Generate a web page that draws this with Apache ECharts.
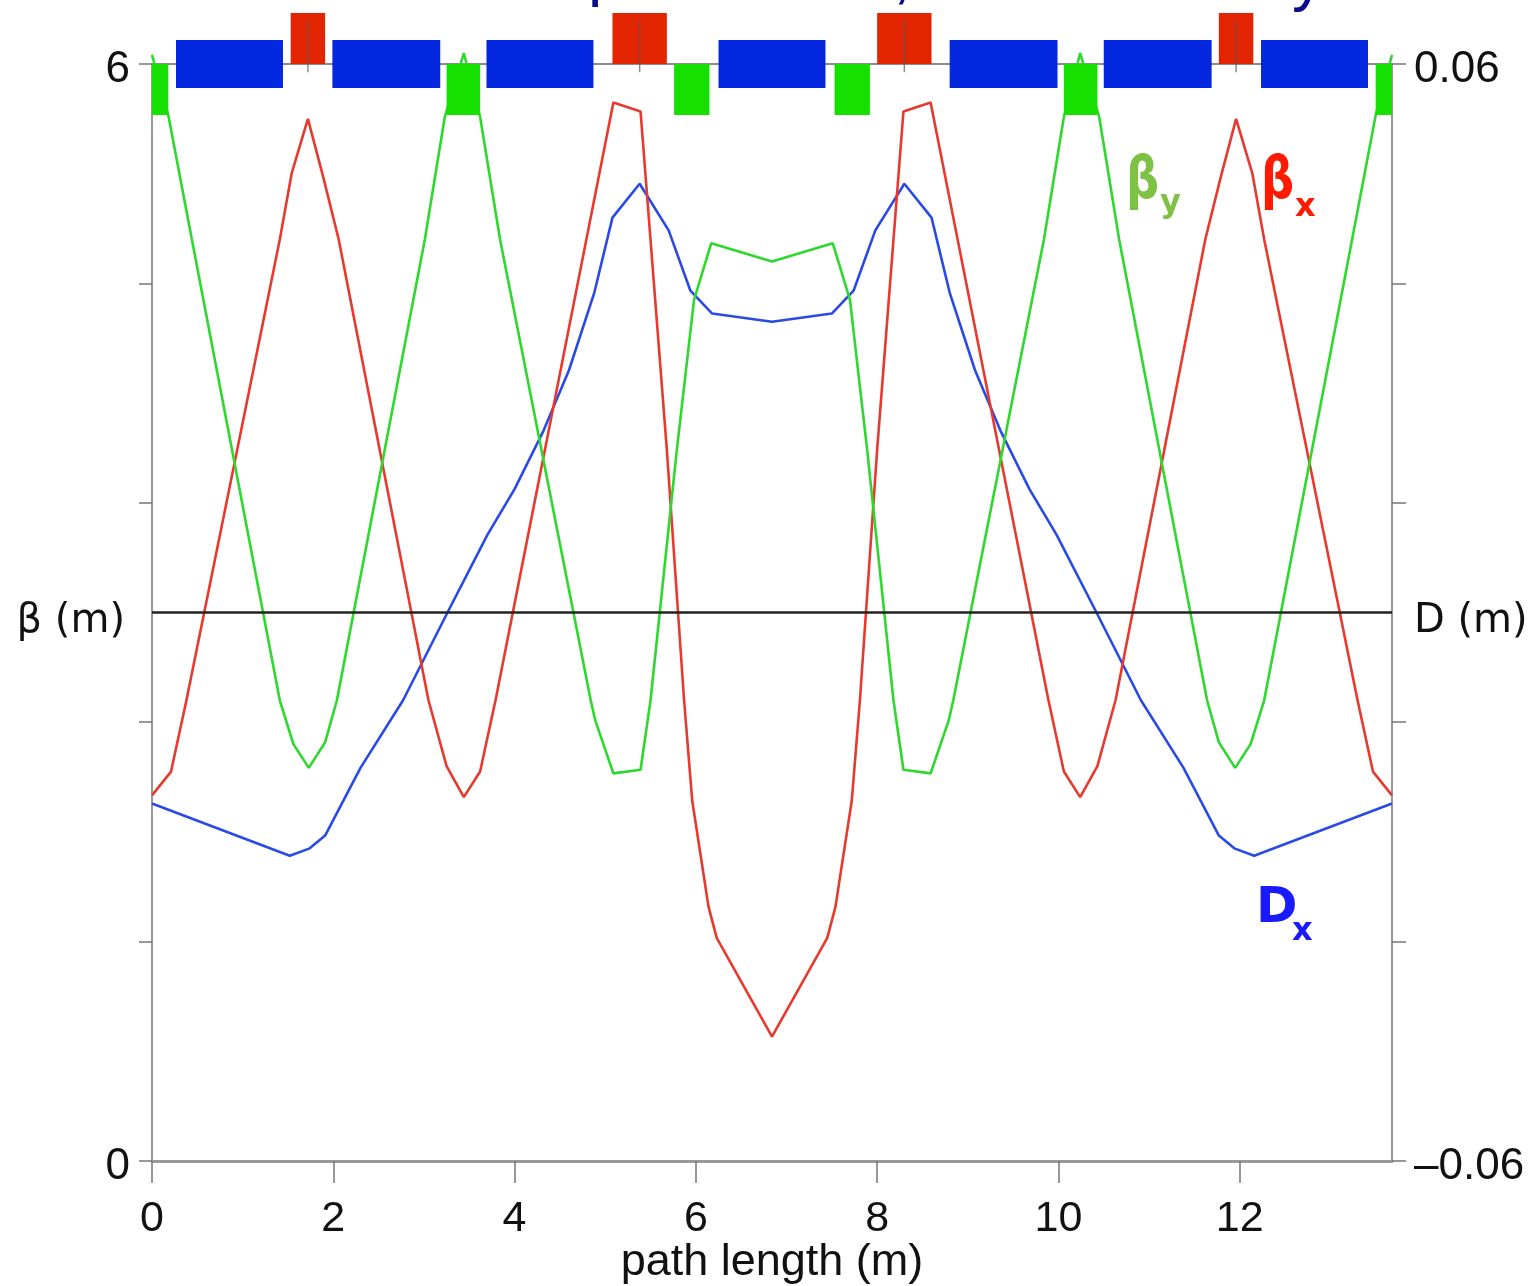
<!DOCTYPE html>
<html>
<head>
<meta charset="utf-8">
<script src="https://cdn.jsdelivr.net/npm/echarts@6/dist/echarts.min.js"></script>
<style>
html,body{margin:0;padding:0;background:#fff;}
#chart{width:1539px;height:1286px;}
</style>
</head>
<body>
<div id="chart"></div>
<script>
// ---- Data ----
const L = 13.68; // cell length (m)
const xTicks = [0, 2, 4, 6, 8, 10, 12];
const betaTicks = [0, 1.2, 2.4, 3.6, 4.8, 6];
const dispTicks = [-0.06, -0.036, -0.012, 0.012, 0.036, 0.06];

// horizontal beta function
const sBx = [0.00,0.21,0.38,1.41,1.54,1.72,1.89,2.06,3.05,3.25,3.44,3.62,3.79,5.09,5.39,5.68,5.87,5.96,6.14,6.23,6.84,
             7.45,7.54,7.72,7.81,8.00,8.29,8.59,9.89,10.06,10.24,10.43,10.63,11.62,11.79,11.96,12.14,12.27,13.30,13.47,13.68];
const betaX = [2.00,2.13,2.52,5.04,5.40,5.70,5.38,5.04,2.52,2.16,1.99,2.13,2.52,5.79,5.74,3.89,2.52,1.97,1.39,1.22,0.68,
             1.22,1.39,1.97,2.52,3.89,5.74,5.79,2.52,2.13,1.99,2.16,2.52,5.04,5.38,5.70,5.40,5.04,2.52,2.13,2.00];

// vertical beta function
const sBy = [0.00,0.18,0.44,1.41,1.56,1.73,1.91,2.04,3.01,3.23,3.44,3.62,3.84,4.84,4.89,5.09,5.39,5.50,5.79,5.98,6.17,6.84,
             7.51,7.70,7.89,8.18,8.29,8.59,8.79,8.84,9.84,10.06,10.24,10.45,10.67,11.64,11.77,11.95,12.12,12.27,13.24,13.50,13.68];
const betaY = [6.05,5.72,5.04,2.52,2.28,2.15,2.29,2.52,5.04,5.71,6.06,5.71,5.04,2.52,2.41,2.12,2.14,2.52,3.89,4.71,5.02,4.92,
             5.02,4.71,3.89,2.52,2.14,2.12,2.41,2.52,5.04,5.71,6.06,5.71,5.04,2.52,2.29,2.15,2.28,2.52,5.04,5.72,6.05];

// horizontal dispersion
const sDx = [0.00,1.52,1.74,1.91,2.30,2.77,3.26,3.70,4.00,4.32,4.60,4.88,5.08,5.38,5.70,5.94,6.18,6.84,
             7.50,7.74,7.98,8.30,8.60,8.80,9.08,9.36,9.68,9.98,10.42,10.91,11.38,11.77,11.94,12.16,13.68];
const dispX = [-0.0209,-0.0266,-0.0258,-0.0244,-0.0170,-0.0096,0.0000,0.0085,0.0135,0.0199,0.0265,0.0350,0.0432,0.0469,0.0418,0.0352,0.0327,0.0318,
             0.0327,0.0352,0.0418,0.0469,0.0432,0.0350,0.0265,0.0199,0.0135,0.0085,0.0000,-0.0096,-0.0170,-0.0244,-0.0258,-0.0266,-0.0209];

// lattice elements [start, end] (m)
const dipoles = [[0.265,1.445],[1.99,3.18],[3.69,4.87],[6.25,7.43],[8.80,9.99],[10.50,11.69],[12.235,13.415]];
const quadsF  = [[1.53,1.91],[5.08,5.68],[8.00,8.60],[11.77,12.15]];
const quadsD  = [[0.00,0.18],[3.25,3.62],[5.76,6.15],[7.53,7.92],[10.06,10.43],[13.50,13.68]];

// ---- Chart ----
const zip = (a, b) => a.map((v, i) => [v, b[i]]);
const FONT = '"Liberation Sans", Arial, sans-serif';
const FONT2 = '"DejaVu Sans", sans-serif';
const GREY = '#777';

function magnetSeries(name, data, lo, hi, color, centerLine) {
  return {
    name, type: 'custom', xAxisIndex: 2, yAxisIndex: 2, z: 5, silent: true,
    data: data,
    renderItem: function (params, api) {
      const s = api.value(0), e = api.value(1);
      const p0 = api.coord([s, hi]);
      const p1 = api.coord([e, lo]);
      const children = [{
        type: 'rect',
        shape: { x: p0[0], y: p0[1], width: p1[0] - p0[0], height: p1[1] - p0[1] },
        style: { fill: color }
      }];
      if (centerLine) {
        const c = (s + e) / 2;
        const a = api.coord([c, 0.85]);
        const b = api.coord([c, -0.16]);
        children.push({ type: 'line', shape: { x1: a[0], y1: a[1], x2: b[0], y2: b[1] },
          style: { stroke: 'rgba(90,90,90,0.7)', lineWidth: 1.5 } });
      }
      return { type: 'group', children };
    }
  };
}

const chart = echarts.init(document.getElementById('chart'), null, { renderer: 'canvas' });
const option = {
  animation: false,
  backgroundColor: '#fff',
  grid: [
    { left: 152, right: 147, top: 64, bottom: 125, containLabel: false, outerBoundsMode: 'none' },
    { left: 152, right: 147, top: 13, height: 102, containLabel: false, outerBoundsMode: 'none' }
  ],
  xAxis: [
    {
      gridIndex: 0, type: 'value', min: 0, max: L, interval: 2,
      axisLine: { show: true, onZero: false, lineStyle: { color: '#999', width: 3 } },
      axisTick: { show: true, length: 22, customValues: xTicks, lineStyle: { color: GREY, width: 1.5 } },
      axisLabel: { customValues: xTicks, fontSize: 43, fontFamily: FONT, color: '#111', margin: 37 },
      splitLine: { show: false },
      name: 'path length (m)', nameLocation: 'middle', nameGap: 79, nameMoveOverlap: false,
      nameTextStyle: { fontSize: 45, fontFamily: FONT, color: '#111' }
    },
    {
      gridIndex: 0, type: 'value', min: 0, max: L, position: 'top',
      axisLine: { show: true, onZero: false, lineStyle: { color: '#666', width: 1.5 } },
      axisTick: { show: false }, axisLabel: { show: false }, splitLine: { show: false }
    },
    { gridIndex: 1, type: 'value', min: 0, max: L, show: false, splitLine: { show: false } }
  ],
  yAxis: [
    {
      gridIndex: 0, type: 'value', min: 0, max: 6, interval: 1.2, position: 'left',
      axisLine: { show: true, onZero: false, lineStyle: { color: GREY, width: 1.5 } },
      axisTick: { show: true, length: 13, customValues: betaTicks, lineStyle: { color: GREY, width: 1.5 } },
      axisLabel: {
        customValues: [0, 6],
        fontSize: 44, fontFamily: FONT, color: '#111', margin: 22,
        verticalAlign: 'top', lineHeight: 12,
        formatter: v => String(v)
      },
      splitLine: { show: false },
      name: 'β (m)', nameLocation: 'middle', nameRotate: 0, nameGap: 27, nameMoveOverlap: false,
      nameTextStyle: { fontSize: 40, fontFamily: FONT2, color: '#111', verticalAlign: 'top', lineHeight: 18 }
    },
    {
      gridIndex: 0, type: 'value', min: -0.06, max: 0.06, interval: 0.012, position: 'right',
      axisLine: { show: true, onZero: false, lineStyle: { color: GREY, width: 1.5 } },
      axisTick: { show: true, length: 14, customValues: dispTicks, lineStyle: { color: GREY, width: 1.5 } },
      axisLabel: {
        customValues: [-0.06, 0.06],
        fontSize: 44, fontFamily: FONT, color: '#111', margin: 22,
        verticalAlign: 'top', lineHeight: 12,
        formatter: v => (v > 0 ? '0.06' : '\u20130.06')
      },
      splitLine: { show: false },
      name: 'D (m)', nameLocation: 'middle', nameRotate: 0, nameGap: 22, nameMoveOverlap: false,
      nameTextStyle: { fontSize: 40, fontFamily: FONT2, color: '#111', verticalAlign: 'top', lineHeight: 18 }
    },
    { gridIndex: 1, type: 'value', min: -1, max: 1, show: false, splitLine: { show: false } }
  ],
  series: [
    {
      name: 'Dx', type: 'line', xAxisIndex: 0, yAxisIndex: 1, data: zip(sDx, dispX),
      showSymbol: false, z: 3, lineStyle: { color: '#2a4ae8', width: 2.6 },
      markLine: {
        silent: true, symbol: 'none', label: { show: false },
        lineStyle: { color: '#222', width: 2.5, type: 'solid' },
        data: [{ yAxis: 0 }]
      }
    },
    {
      name: 'βx', type: 'line', xAxisIndex: 0, yAxisIndex: 0, data: zip(sBx, betaX),
      showSymbol: false, z: 3, lineStyle: { color: '#e8392e', width: 2.6 }
    },
    {
      name: 'βy', type: 'line', xAxisIndex: 0, yAxisIndex: 0, data: zip(sBy, betaY),
      showSymbol: false, clip: false, z: 3, lineStyle: { color: '#2ed82e', width: 2.6 }
    },
    magnetSeries('dipole', dipoles, -0.47, 0.47, '#0328e0', false),
    magnetSeries('quadF', quadsF, 0, 1, '#e22400', true),
    magnetSeries('quadD', quadsD, -1, 0, '#16e000', false)
  ],
  graphic: [
    // cut-off title descenders at the very top
    { type: 'text', x: 588, y: -56, style: { text: 'p', font: '64px ' + FONT, fill: '#0a0a8c' } },
    { type: 'text', x: 893, y: -54, style: { text: ',', font: '64px ' + FONT, fill: '#0a0a8c' } },
    { type: 'text', x: 1292, y: -51, style: { text: 'y', font: '64px ' + FONT, fill: '#0a0a8c' } },
    // curve labels
    { type: 'text', x: 1126, y: 154, scaleX: 0.8, style: { text: 'β', font: 'bold 58px ' + FONT2, fill: '#7dc242' } },
    { type: 'text', x: 1160, y: 188, style: { text: 'y', font: 'bold 32px ' + FONT2, fill: '#7dc242' } },
    { type: 'text', x: 1261, y: 154, scaleX: 0.8, style: { text: 'β', font: 'bold 58px ' + FONT2, fill: '#ff1a00' } },
    { type: 'text', x: 1295, y: 192, style: { text: 'x', font: 'bold 32px ' + FONT2, fill: '#ff1a00' } },
    { type: 'text', x: 1256, y: 884, style: { text: 'D', font: 'bold 50px ' + FONT2, fill: '#1a1aff' } },
    { type: 'text', x: 1292, y: 916, style: { text: 'x', font: 'bold 32px ' + FONT2, fill: '#1a1aff' } }
  ]
};
chart.setOption(option);
</script>
</body>
</html>
